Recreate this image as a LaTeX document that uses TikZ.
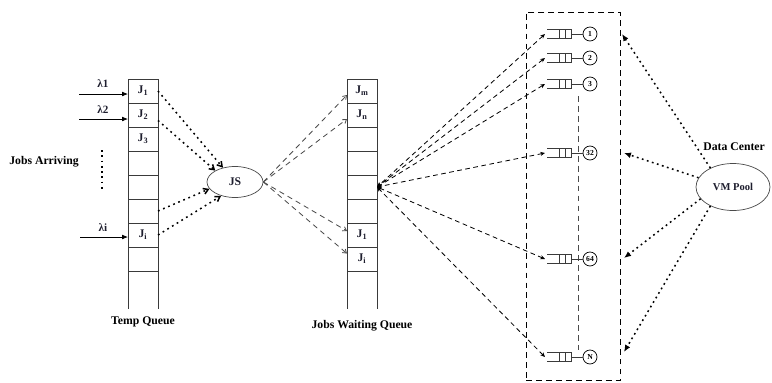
\documentclass[tikz,border=0pt]{standalone}
\usepackage{fontspec}
\setmainfont{Liberation Serif}
\usetikzlibrary{arrows.meta,shapes.geometric,calc}
\definecolor{qInk}{HTML}{1E1E2E}
\definecolor{qEdge}{HTML}{3A3A3A}
\definecolor{qGrey}{HTML}{4A4A4A}
\tikzset{
  qCell/.style={rectangle, draw=qEdge, line width=0.6pt, minimum width=0.9cm, minimum height=0.72cm,
    inner sep=0pt, outer sep=0pt, font=\fontsize{10}{12}\selectfont\bfseries, text=qInk},
  qTail/.style={draw=qEdge, line width=0.6pt},
  caption/.style={font=\fontsize{10}{12}\selectfont\bfseries, text=black, inner sep=1pt},
  rateLabel/.style={font=\fontsize{9.5}{11}\selectfont\bfseries, text=qInk, inner sep=1pt},
  arrive/.style={-{Latex[length=5pt,width=4pt]}, line width=0.6pt},
  arriveDots/.style={line width=1.5pt, dash pattern=on 1.5pt off 3pt},
  jsNode/.style={ellipse, draw=qGrey, line width=0.6pt, minimum width=1.68cm, minimum height=0.93cm,
    inner sep=0pt, font=\fontsize{10}{12}\selectfont\bfseries, text=qInk},
  toJS/.style={-{Straight Barb[length=4pt,width=5pt]}, line width=1.3pt, dash pattern=on 1.5pt off 3.2pt},
  fromJS/.style={-{Straight Barb[length=3pt,width=4pt]}, draw=qGrey, line width=0.7pt,
    dash pattern=on 4.5pt off 3.5pt},
  dispatch/.style={{Stealth[length=4pt,width=3.5pt]}-{Stealth[length=4pt,width=3.5pt]},
    line width=0.7pt, dash pattern=on 4pt off 3pt},
  dcFrame/.style={rectangle, draw=black, line width=0.8pt, dash pattern=on 5pt off 3.5pt,
    minimum width=2.82cm, minimum height=11.04cm, inner sep=0pt},
  vmSpine/.style={draw=qGrey, line width=0.6pt, dash pattern=on 5pt off 3.5pt},
  vmQueue/.style={draw=qEdge, line width=0.6pt},
  vmSlot/.style={circle, draw=black, line width=0.6pt, minimum size=0.42cm, inner sep=0pt,
    font=\fontsize{6.5}{7}\selectfont\bfseries},
  poolNode/.style={ellipse, draw=qGrey, line width=0.6pt, minimum width=2.22cm, minimum height=1.41cm,
    inner sep=0pt, font=\fontsize{9}{10}\selectfont\bfseries, text=qInk},
  vmLink/.style={-{Latex[length=6pt,width=5pt]}, line width=1.3pt, dash pattern=on 1.5pt off 3pt},
}

\begin{document}
\begin{tikzpicture}[x=0.03cm,y=-0.03cm]
  \useasboundingbox (0,0) rectangle (772,382);

  % temp queue and jobs waiting queue
  \foreach \i/\lbl in {1/{J\textsubscript{1}},2/{J\textsubscript{2}},3/{J\textsubscript{3}},4/{},5/{},6/{},7/{J\textsubscript{i}},8/{}}
    \node[qCell] (tq\i) at (143,67+24*\i) {\lbl};
  \foreach \i/\lbl in {1/{J\textsubscript{m}},2/{J\textsubscript{n}},3/{},4/{},5/{},6/{},7/{J\textsubscript{1}},8/{J\textsubscript{i}}}
    \node[qCell] (wq\i) at (362,67+24*\i) {\lbl};
  \draw[qTail] (tq8.south west) -- ++(0,38) (tq8.south east) -- ++(0,38);
  \draw[qTail] (wq8.south west) -- ++(0,38) (wq8.south east) -- ++(0,38);

  \node[caption] (tempCap) at (143,322) {Temp Queue};
  \node[caption] (waitCap) at (362,326) {Jobs Waiting Queue};
  \node[caption] (arriving) at (44,162) {Jobs Arriving};
  \draw[arriveDots] (102,150) -- (102,192);

  % arrivals
  \coordinate (lam1) at (79,94);
  \coordinate (lam2) at (79,119);
  \coordinate (lamI) at (80,237);
  \draw[arrive] (lam1) -- (lam1 -| tq1.west);
  \draw[arrive] (lam2) -- (lam2 -| tq2.west);
  \draw[arrive] (lamI) -- (lamI -| tq7.west);
  \node[rateLabel] (rate1) at (103,84) {λ1};
  \node[rateLabel] (rate2) at (103,110) {λ2};
  \node[rateLabel] (rateI) at (103,228) {λi};

  % job scheduler
  \node[jsNode] (js) at (235,182) {JS};
  \draw[toJS] (tq1.east) -- (js.130);
  \draw[toJS] (tq2.-20) -- (js.150);
  \draw[toJS] (tq6.east) -- (js.195);
  \draw[toJS] (tq7.east) -- (js.225);
  \draw[fromJS] (js.east) -- (wq1.195);
  \draw[fromJS] (js.east) -- (wq2.195);
  \draw[fromJS] (js.east) -- (wq7.165);
  \draw[fromJS] (js.east) -- (wq8.160);

  % data center with per-VM queues
  \node[dcFrame] (dc) at (573,196) {};
  \draw[vmSpine] (578,96) -- (578,350);
  \foreach \k/\y/\lbl in {1/34/1,2/58/2,3/84/3,4/153/32,5/259/64,6/357/N}{
    \draw[vmQueue] (547,\y-4.5) -- (571,\y-4.5) -- (571,\y+4.5) -- (547,\y+4.5)
      (559,\y-4.5) -- (559,\y+4.5) (565,\y-4.5) -- (565,\y+4.5);
    \node[vmSlot] (vm\k) at (590,\y) {\lbl};
    \draw[vmQueue] (571,\y) -- (vm\k);
    \coordinate (qin\k) at (545,\y);
    \draw[dispatch] (qin\k) -- (wq5.east);
  }

  % VM pool
  \node[poolNode] (pool) at (733,187) {VM Pool};
  \node[caption, anchor=west] (dcTitle) at (702,147) {Data Center};
  \coordinate (dcIn1) at (622,34);
  \coordinate (dcIn2) at (624,153);
  \coordinate (dcIn3) at (624,258);
  \coordinate (dcIn4) at (624,352);
  \draw[vmLink] (pool.140) -- (dcIn1);
  \draw[vmLink] (pool.165) -- (dcIn2);
  \draw[vmLink] (pool.200) -- (dcIn3);
  \draw[vmLink] (pool.220) -- (dcIn4);
\end{tikzpicture}
\end{document}
